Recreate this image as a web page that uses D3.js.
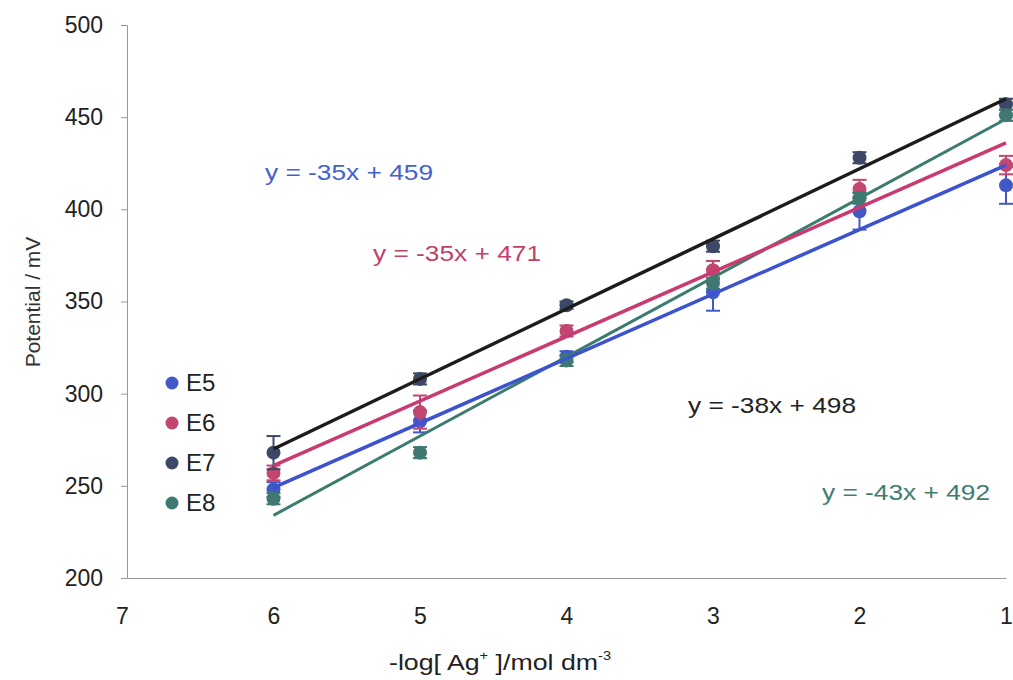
<!DOCTYPE html>
<html><head><meta charset="utf-8">
<script src="https://cdn.jsdelivr.net/npm/d3@7"></script>
<style>
html,body{margin:0;padding:0;background:#fff;}
text{font-family:"Liberation Sans",Arial,sans-serif;}
</style></head>
<body>
<svg id="chart" width="1013" height="680"></svg>
<script>
// ---- data ----
const xValues = [6, 5, 4, 3, 2, 1];
const seriesNames = ["E5", "E6", "E7", "E8"];
const e5Values = [248, 285, 320, 355, 399, 413];
const e6Values = [257, 290, 334, 367, 411, 424];
const e7Values = [268, 308, 348, 380, 428, 457];
const e8Values = [243, 268, 318, 360, 406, 451];
const e5Errors = [4, 6, 3, 10, 10, 10];
const e6Errors = [4, 9, 3, 5, 5, 5];
const e7Errors = [9, 3, 2, 3, 3, 3];
const e8Errors = [3, 3, 3, 3, 3, 3];
const slopes = [-35, -35, -38, -43];
const intercepts = [459, 471, 498, 492];
const equationLabels = ["y = -35x + 459", "y = -35x + 471", "y = -38x + 498", "y = -43x + 492"];
const xTicks = [7, 6, 5, 4, 3, 2, 1];
const yTicks = [200, 250, 300, 350, 400, 450, 500];

// ---- styles ----
const markerColors = ["#4059c4", "#c2466f", "#3c4866", "#3f7872"];
const lineColors = ["#3d52cf", "#c93a73", "#1c1c1c", "#3b7c6e"];
const textColors = ["#4561cc", "#c0406e", "#222222", "#3f7d72"];
const eqPos = [[265, 172], [373, 253], [688, 405], [822, 492]];

const svg = d3.select("#chart");
const x = d3.scaleLinear().domain([7, 1]).range([127, 1006]);
const y = d3.scaleLinear().domain([200, 500]).range([578, 25]);

// axes
const yAxis = svg.append("g").attr("transform", "translate(127,0)")
  .call(d3.axisLeft(y).tickValues(yTicks).tickSize(6).tickPadding(18));
yAxis.select(".domain").attr("stroke", "#999");
yAxis.selectAll(".tick line").attr("stroke", "#999");
yAxis.selectAll(".tick text").attr("font-size", 23).attr("fill", "#222");

const xAxis = svg.append("g").attr("transform", "translate(0,578)")
  .call(d3.axisBottom(x).tickValues(xTicks).tickSize(0).tickPadding(30).tickFormat(d3.format("d")));
xAxis.select(".domain").attr("stroke", "#999");
xAxis.selectAll(".tick text").attr("font-size", 23).attr("fill", "#222");
xAxis.selectAll(".tick").filter(d => d === 7).select("text").attr("dx", -5);

// axis titles
svg.append("text").attr("transform", "translate(40,302) rotate(-90)")
  .attr("text-anchor", "middle").attr("font-size", 21).attr("fill", "#333").text("Potential / mV");
const xt = svg.append("text").attr("x", 500).attr("y", 670).attr("text-anchor", "middle")
  .attr("font-size", 22).attr("fill", "#222")
  .attr("textLength", 222).attr("lengthAdjust", "spacingAndGlyphs");
xt.append("tspan").text("-log[ Ag");
xt.append("tspan").attr("font-size", 12).attr("dy", -10).text("+");
xt.append("tspan").attr("dy", 10).text(" ]/mol dm");
xt.append("tspan").attr("font-size", 12).attr("dy", -10).text("-3");

const allValues = [e5Values, e6Values, e7Values, e8Values];
const allErrors = [e5Errors, e6Errors, e7Errors, e8Errors];

const plot = svg.append("g");
// error bars + markers
seriesNames.forEach((name, i) => {
  const g = plot.append("g");
  const pts = xValues.map((xv, j) => ({x: xv, v: allValues[i][j], e: allErrors[i][j]}));
  g.selectAll("line.eb").data(pts).join("line")
    .attr("x1", d => x(d.x)).attr("x2", d => x(d.x))
    .attr("y1", d => y(d.v + d.e)).attr("y2", d => y(d.v - d.e))
    .attr("stroke", markerColors[i]).attr("stroke-width", 2);
  g.selectAll("line.capt").data(pts).join("line")
    .attr("x1", d => x(d.x) - 7).attr("x2", d => x(d.x) + 7)
    .attr("y1", d => y(d.v + d.e)).attr("y2", d => y(d.v + d.e))
    .attr("stroke", markerColors[i]).attr("stroke-width", 2);
  g.selectAll("line.capb").data(pts).join("line")
    .attr("x1", d => x(d.x) - 7).attr("x2", d => x(d.x) + 7)
    .attr("y1", d => y(d.v - d.e)).attr("y2", d => y(d.v - d.e))
    .attr("stroke", markerColors[i]).attr("stroke-width", 2);
  g.selectAll("circle").data(pts).join("circle")
    .attr("cx", d => x(d.x)).attr("cy", d => y(d.v)).attr("r", 7)
    .attr("fill", markerColors[i]);
});

// trend lines (from the printed equations)
const trendOrder = [3, 0, 1, 2];
trendOrder.forEach(i => {
  const x0 = d3.max(xValues), x1 = d3.min(xValues);
  plot.append("line")
    .attr("x1", x(x0)).attr("y1", y(slopes[i] * x0 + intercepts[i]))
    .attr("x2", x(x1)).attr("y2", y(slopes[i] * x1 + intercepts[i]))
    .attr("stroke", lineColors[i]).attr("stroke-width", i === 3 ? 3 : 3.5);
});

// equations
equationLabels.forEach((t, i) => {
  svg.append("text").attr("x", eqPos[i][0]).attr("y", eqPos[i][1] + 8)
    .attr("font-size", 22).attr("fill", textColors[i])
    .attr("textLength", 168).attr("lengthAdjust", "spacingAndGlyphs").text(t);
});

// legend
const leg = svg.append("g");
seriesNames.forEach((n, i) => {
  const yy = 383 + i * 40;
  leg.append("circle").attr("cx", 172).attr("cy", yy).attr("r", 6.5).attr("fill", markerColors[i]);
  leg.append("text").attr("x", 186).attr("y", yy + 8).attr("font-size", 24).attr("fill", "#222").text(n);
});
</script>
</body></html>
